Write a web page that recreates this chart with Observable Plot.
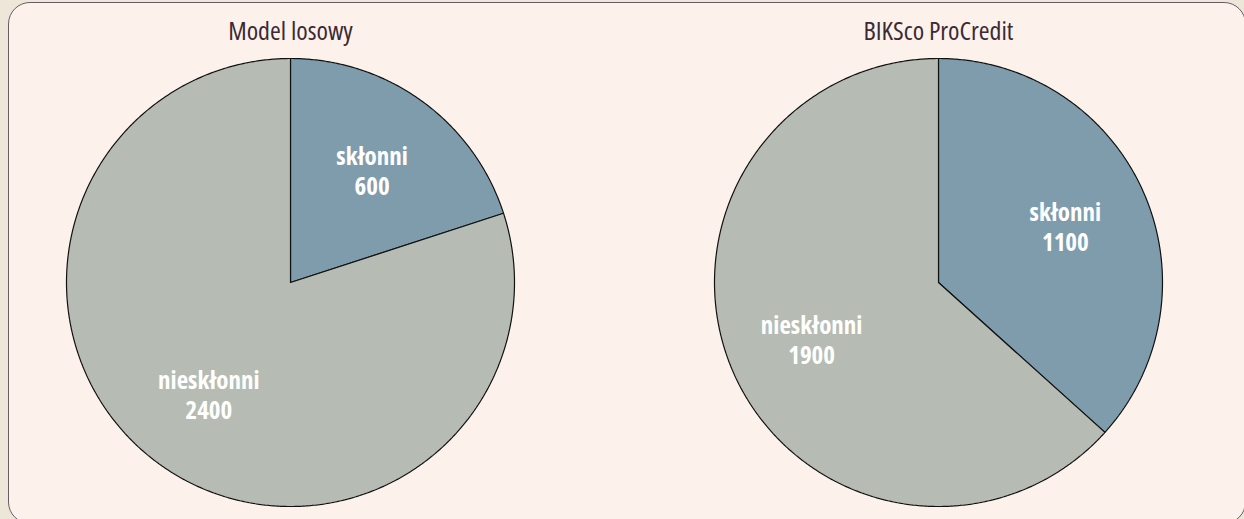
<!DOCTYPE html>
<html>
<head>
<meta charset="utf-8">
<script src="https://cdn.jsdelivr.net/npm/d3@7"></script>
<script src="https://cdn.jsdelivr.net/npm/@observablehq/plot@0.6"></script>
<style>
  html, body { margin: 0; padding: 0; }
  body { width: 1244px; height: 519px; background: #ede7da; overflow: hidden; position: relative; }
  #box { position: absolute; left: 8px; top: 2px; width: 1238px; height: 522px; box-sizing: border-box;
         border: 1.5px solid #6b5a64; border-radius: 22px; background: #fdf2eb; }
  #chart { position: absolute; left: 0; top: 0; }
  #chart svg, #chart svg text { font-stretch: 75% !important; }
</style>
</head>
<body>
<div id="box"></div>
<div id="chart"></div>
<script>
const charts = ["Model losowy", "BIKSco ProCredit"];
const categories = ["skłonni", "nieskłonni"];
const sklonniValues = [600, 1100];
const niesklonniValues = [2400, 1900];

const colors = ["#7f9cad", "#b6bcb3"];
const labelRadius = 0.62;
const FONT = "'Open Sans', sans-serif";

// Build slice outlines and labels from the values
const slicePoints = [];
const labels = [];
const pie = d3.pie().sort(null).value(d => d.value);
charts.forEach((chart, i) => {
  const rows = [
    {cat: categories[0], value: sklonniValues[i]},
    {cat: categories[1], value: niesklonniValues[i]}
  ];
  pie(rows).forEach(arc => {
    const key = chart + "|" + arc.data.cat;
    slicePoints.push({chart, cat: arc.data.cat, key, x: 0, y: 0});
    const n = Math.max(2, Math.ceil((arc.endAngle - arc.startAngle) / (Math.PI / 360)));
    for (let k = 0; k <= n; ++k) {
      const a = arc.startAngle + (arc.endAngle - arc.startAngle) * k / n;
      slicePoints.push({chart, cat: arc.data.cat, key, x: Math.sin(a), y: Math.cos(a)});
    }
    slicePoints.push({chart, cat: arc.data.cat, key, x: 0, y: 0});
    const mid = (arc.startAngle + arc.endAngle) / 2;
    labels.push({chart, text: arc.data.cat + "\n" + arc.data.value,
                 x: labelRadius * Math.sin(mid), y: labelRadius * Math.cos(mid)});
  });
});

const W = 1244, H = 519;
const mTop = 58, mBottom = 13, mLeft = 40, mRight = 56;
const ppu = (H - mTop - mBottom) / 2; // pixels per radius unit
const facetW = 500;
const xHalf = facetW / 2 / ppu;

const plot = Plot.plot({
  width: W,
  height: H,
  marginTop: mTop,
  marginBottom: mBottom,
  marginLeft: mLeft,
  marginRight: mRight,
  style: {background: "transparent", fontFamily: FONT, fontSize: "26px", color: "#3b2a35"},
  fx: {domain: charts, axis: "top", label: null, tickSize: 0, tickPadding: 19, paddingInner: (648 - 500) / 648, paddingOuter: 0, round: false},
  x: {domain: [-xHalf, xHalf], axis: null},
  y: {domain: [-1, 1], axis: null},
  color: {domain: categories, range: colors},
  marks: [
    Plot.line(slicePoints, {fx: "chart", x: "x", y: "y", z: "key", fill: "cat", stroke: "#111", strokeWidth: 1.2, strokeLinejoin: "miter"}),
    Plot.text(labels, {fx: "chart", x: "x", y: "y", text: "text", fill: "white", fontSize: 25, fontWeight: "bold", lineHeight: 1.2, fontFamily: FONT})
  ]
});
document.getElementById("chart").appendChild(plot);
</script>
</body>
</html>
